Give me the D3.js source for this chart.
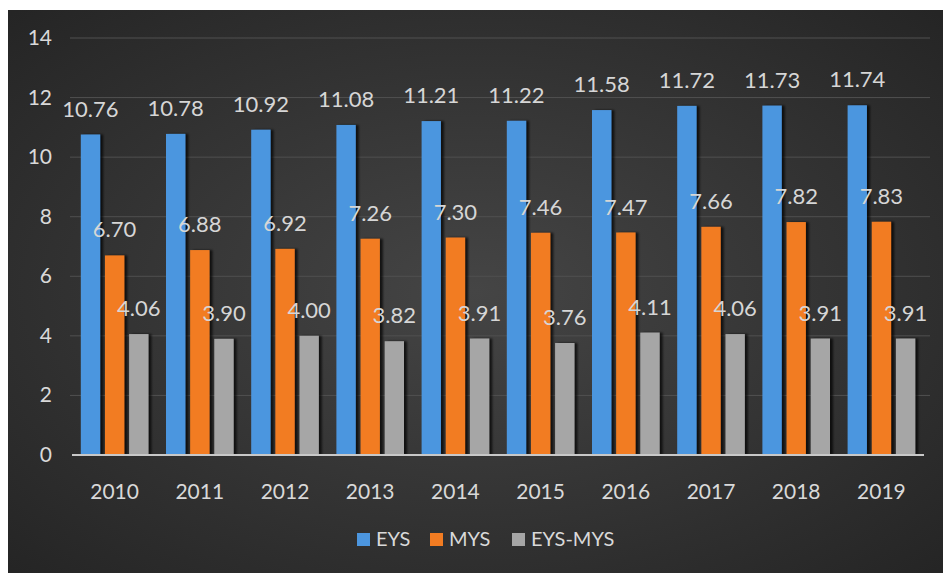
<!DOCTYPE html>
<html>
<head>
<meta charset="utf-8">
<script src="https://cdn.jsdelivr.net/npm/d3@7"></script>
<style>
  html, body { margin: 0; padding: 0; background: #fff; }
  svg { display: block; font-family: Lato, "Open Sans", sans-serif; }
</style>
</head>
<body>
<svg width="943" height="573"></svg>
<script>
var years = ["2010", "2011", "2012", "2013", "2014", "2015", "2016", "2017", "2018", "2019"];
var series = ["EYS", "MYS", "EYS-MYS"];
var eys = [10.76, 10.78, 10.92, 11.08, 11.21, 11.22, 11.58, 11.72, 11.73, 11.74];
var mys = [6.70, 6.88, 6.92, 7.26, 7.30, 7.46, 7.47, 7.66, 7.82, 7.83];
var diff = [4.06, 3.90, 4.00, 3.82, 3.91, 3.76, 4.11, 4.06, 3.91, 3.91];
var yTicks = [0, 2, 4, 6, 8, 10, 12, 14];

var colors = {"EYS": "#4c96df", "MYS": "#f27c22", "EYS-MYS": "#a6a6a6"};
var values = {"EYS": eys, "MYS": mys, "EYS-MYS": diff};

var svg = d3.select("svg"),
    width = +svg.attr("width"),
    height = +svg.attr("height");

// background: dark radial gradient, white strip on top/left
var defs = svg.append("defs");
var grad = defs.append("radialGradient").attr("id", "bg")
    .attr("cx", "50%").attr("cy", "50%").attr("r", "70%");
grad.append("stop").attr("offset", "0%").attr("stop-color", "#454545");
grad.append("stop").attr("offset", "100%").attr("stop-color", "#252525");

var shadow = defs.append("filter").attr("id", "shadow")
    .attr("x", "-20%").attr("y", "-5%").attr("width", "160%").attr("height", "110%");
shadow.append("feDropShadow").attr("dx", 3).attr("dy", 0).attr("stdDeviation", 1.2)
    .attr("flood-color", "#000").attr("flood-opacity", 0.7);

svg.append("rect").attr("x", 8).attr("y", 10)
    .attr("width", width - 8).attr("height", height - 10)
    .attr("fill", "url(#bg)");

var x0 = d3.scaleBand().domain(years).range([72, 924]);
var x1 = d3.scaleBand().domain(series).range([8.8, 76.4]).paddingInner(0.2);
var y = d3.scaleLinear().domain([0, 14]).range([455, 38]);

// gridlines
svg.append("g").selectAll("line")
    .data(yTicks.filter(function(d) { return d > 0; }))
    .enter().append("line")
    .attr("x1", 70).attr("x2", 930)
    .attr("y1", function(d) { return y(d); })
    .attr("y2", function(d) { return y(d); })
    .attr("stroke", "#505050").attr("stroke-width", 1);

// y labels
svg.append("g").selectAll("text")
    .data(yTicks)
    .enter().append("text")
    .attr("x", 52)
    .attr("y", function(d) { return y(d) + 7; })
    .attr("text-anchor", "end")
    .attr("fill", "#d9d9d9")
    .attr("font-size", 21)
    .text(function(d) { return d; });

// bars
var group = svg.append("g").selectAll("g")
    .data(years)
    .enter().append("g")
    .attr("transform", function(d) { return "translate(" + x0(d) + ",0)"; });

group.selectAll("rect")
    .data(function(d, i) { return series.map(function(s) { return {s: s, v: values[s][i]}; }); })
    .enter().append("rect")
    .attr("x", function(d) { return x1(d.s); })
    .attr("y", function(d) { return y(d.v); })
    .attr("width", x1.bandwidth())
    .attr("height", function(d) { return y(0) - y(d.v); })
    .attr("fill", function(d) { return colors[d.s]; })
    .attr("filter", "url(#shadow)");

group.selectAll("text")
    .data(function(d, i) { return series.map(function(s) { return {s: s, v: values[s][i]}; }); })
    .enter().append("text")
    .attr("x", function(d) { return x1(d.s) + x1.bandwidth() / 2; })
    .attr("y", function(d) { return y(d.v) - 18; })
    .attr("text-anchor", "middle")
    .attr("fill", "#d6d6d6")
    .attr("font-size", 22)
    .text(function(d) { return d.v.toFixed(2); });

// baseline
svg.append("line")
    .attr("x1", 72).attr("x2", 924)
    .attr("y1", y(0)).attr("y2", y(0))
    .attr("stroke", "#c8c8c8").attr("stroke-width", 2);

// x labels
svg.append("g").selectAll("text")
    .data(years)
    .enter().append("text")
    .attr("x", function(d) { return x0(d) + x0.bandwidth() / 2; })
    .attr("y", 499)
    .attr("text-anchor", "middle")
    .attr("fill", "#d9d9d9")
    .attr("font-size", 21)
    .text(function(d) { return d; });

// legend
var legendX = [357, 430, 512];
var legend = svg.append("g").selectAll("g")
    .data(series)
    .enter().append("g")
    .attr("transform", function(d, i) { return "translate(" + legendX[i] + ",533)"; });
legend.append("rect")
    .attr("width", 13).attr("height", 13)
    .attr("fill", function(d) { return colors[d]; });
legend.append("text")
    .attr("x", 19).attr("y", 13)
    .attr("fill", "#d9d9d9")
    .attr("font-size", 20)
    .text(function(d) { return d; });
</script>
</body>
</html>
